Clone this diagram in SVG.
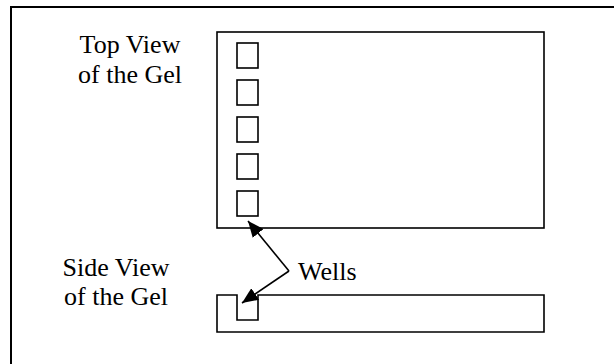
<svg xmlns="http://www.w3.org/2000/svg" width="614" height="364" viewBox="0 0 614 364">
  <style>
    .frame { fill: none; stroke: #000; stroke-width: 2; }
    .box { fill: #fff; stroke: #000; stroke-width: 1.6; }
    .well { fill: #fff; stroke: #000; stroke-width: 1.6; }
    .label { font-family: 'Liberation Serif', 'Times New Roman', serif; font-size: 26px; fill: #000; }
    .conn { fill: none; stroke: #000; stroke-width: 1.6; }
  </style>
  <defs>
    <marker id="arrow" markerUnits="userSpaceOnUse" markerWidth="18" markerHeight="14" refX="16" refY="7" orient="auto">
      <path d="M0,0 L16,7 L0,14 Z" fill="#000"/>
    </marker>
  </defs>
  <rect width="614" height="364" fill="#fff"/>

  <!-- outer page frame (only top and left edges fall inside the canvas) -->
  <path class="frame" d="M11,380 V7 H630"/>

  <g id="top-view-label">
    <text class="label" x="130" y="53" text-anchor="middle">Top View</text>
    <text class="label" x="130" y="83" text-anchor="middle">of the Gel</text>
  </g>

  <g id="top-view-gel">
    <rect class="box" x="217" y="32" width="327" height="196"/>
    <rect class="well" x="237" y="43" width="21" height="25"/>
    <rect class="well" x="237" y="80" width="21" height="25"/>
    <rect class="well" x="237" y="117" width="21" height="25"/>
    <rect class="well" x="237" y="154" width="21" height="25"/>
    <rect class="well" x="237" y="191" width="21" height="25"/>
  </g>

  <g id="side-view-label">
    <text class="label" x="116" y="276" text-anchor="middle">Side View</text>
    <text class="label" x="116" y="305" text-anchor="middle">of the Gel</text>
  </g>

  <g id="side-view-gel">
    <path class="box" d="M217,295 H237 V320 H258 V295 H544 V332 H217 Z"/>
  </g>

  <g id="wells-label">
    <text class="label" x="298" y="280">Wells</text>
  </g>

  <g id="connectors">
    <line class="conn" x1="289" y1="271" x2="248" y2="221" marker-end="url(#arrow)"/>
    <line class="conn" x1="289" y1="271" x2="242" y2="303" marker-end="url(#arrow)"/>
  </g>
</svg>
